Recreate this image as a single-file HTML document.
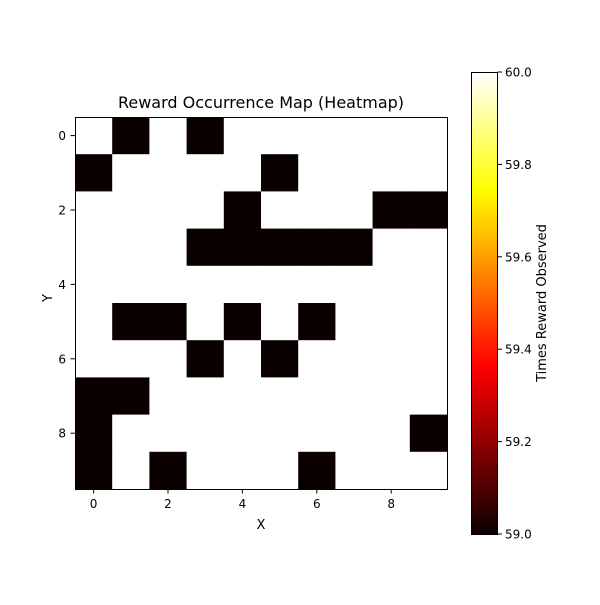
<!DOCTYPE html>
<html><head><meta charset="utf-8"><style>body{margin:0;background:#fff}svg text{font-family:"DejaVu Sans","Liberation Sans",sans-serif;fill:#000}</style></head>
<body>
<svg id="chart" width="600" height="600" xmlns="http://www.w3.org/2000/svg">
<defs><linearGradient id="hot" x1="0" y1="1" x2="0" y2="0">
<stop offset="0" stop-color="#0b0000"/><stop offset="0.365" stop-color="#ff0000"/><stop offset="0.746" stop-color="#ffff00"/><stop offset="1" stop-color="#ffffff"/></linearGradient></defs>
<g id="cells"></g>
<rect x="75.5" y="117.5" width="372" height="372" fill="none" stroke="#000" stroke-width="1"/>
<g id="axes"></g>
<text x="261" y="108" font-size="16" text-anchor="middle">Reward Occurrence Map (Heatmap)</text>
<text x="261" y="529" font-size="13" text-anchor="middle">X</text>
<text x="47" y="303" font-size="13" text-anchor="middle" transform="rotate(-90 47 298)">Y</text>
<rect x="471.5" y="72.5" width="26" height="462" fill="url(#hot)" stroke="#000" stroke-width="1"/>
<g id="cbticks"></g>
<text x="546" y="303" font-size="13" text-anchor="middle" transform="rotate(-90 546 303)">Times Reward Observed</text>
</svg>
<script>
const rows=[0,1,2,3,4,5,6,7,8,9];
const cols=[0,1,2,3,4,5,6,7,8,9];
const values=[
[60,59,60,59,60,60,60,60,60,60],
[59,60,60,60,60,59,60,60,60,60],
[60,60,60,60,59,60,60,60,59,59],
[60,60,60,59,59,59,59,59,60,60],
[60,60,60,60,60,60,60,60,60,60],
[60,59,59,60,59,60,59,60,60,60],
[60,60,60,59,60,59,60,60,60,60],
[59,59,60,60,60,60,60,60,60,60],
[59,60,60,60,60,60,60,60,60,59],
[59,60,59,60,60,60,59,60,60,60]];
const axisTicks=[0,2,4,6,8];
const cbTicks=[59.0,59.2,59.4,59.6,59.8,60.0];
const NS="http://www.w3.org/2000/svg";
const x0=75,y0=117,cs=37.2,vmin=59,vmax=60;
const xs=c=>x0+(c+0.5)*cs, ys=r=>y0+(r+0.5)*cs;
const cy=v=>534-(v-vmin)/(vmax-vmin)*462;
function hot(t){const r=Math.min(1,0.0416+t/0.365*(1-0.0416)),g=Math.max(0,Math.min(1,(t-0.365)/0.381)),b=Math.max(0,Math.min(1,(t-0.746)/0.254));return `rgb(${Math.round(r*255)},${Math.round(g*255)},${Math.round(b*255)})`;}
const cells=document.getElementById('cells');
rows.forEach(r=>cols.forEach(c=>{const e=document.createElementNS(NS,'rect');


e.setAttribute('x',xs(c)-cs/2);e.setAttribute('y',ys(r)-cs/2);e.setAttribute('width',cs+0.5);e.setAttribute('height',cs+0.5);
e.setAttribute('fill',hot((values[r][c]-vmin)/(vmax-vmin)));cells.appendChild(e);}));
const ax=document.getElementById('axes');
function add(tag,at,txt,p){const e=document.createElementNS(NS,tag);for(const k in at)e.setAttribute(k,at[k]);if(txt!=null)e.textContent=txt;p.appendChild(e);return e;}
axisTicks.forEach(t=>{
const a=add('line',{x1:xs(t),x2:xs(t),y1:489,y2:493.5,stroke:'#000'},null,ax);


const b=add('text',{x:xs(t),y:508,'font-size':12,'text-anchor':'middle'},t,ax);


const c=add('line',{x1:70.5,x2:75,y1:ys(t),y2:ys(t),stroke:'#000'},null,ax);


const d=add('text',{x:66,y:ys(t)+4.5,'font-size':12,'text-anchor':'end'},t,ax);


});
const cb=document.getElementById('cbticks');
cbTicks.forEach(t=>{
const a=add('line',{x1:497.5,x2:502,y1:cy(t),y2:cy(t),stroke:'#000'},null,cb);


const b=add('text',{x:505,y:cy(t)+4.5,'font-size':12},t.toFixed(1),cb);


});
</script>
</body></html>
